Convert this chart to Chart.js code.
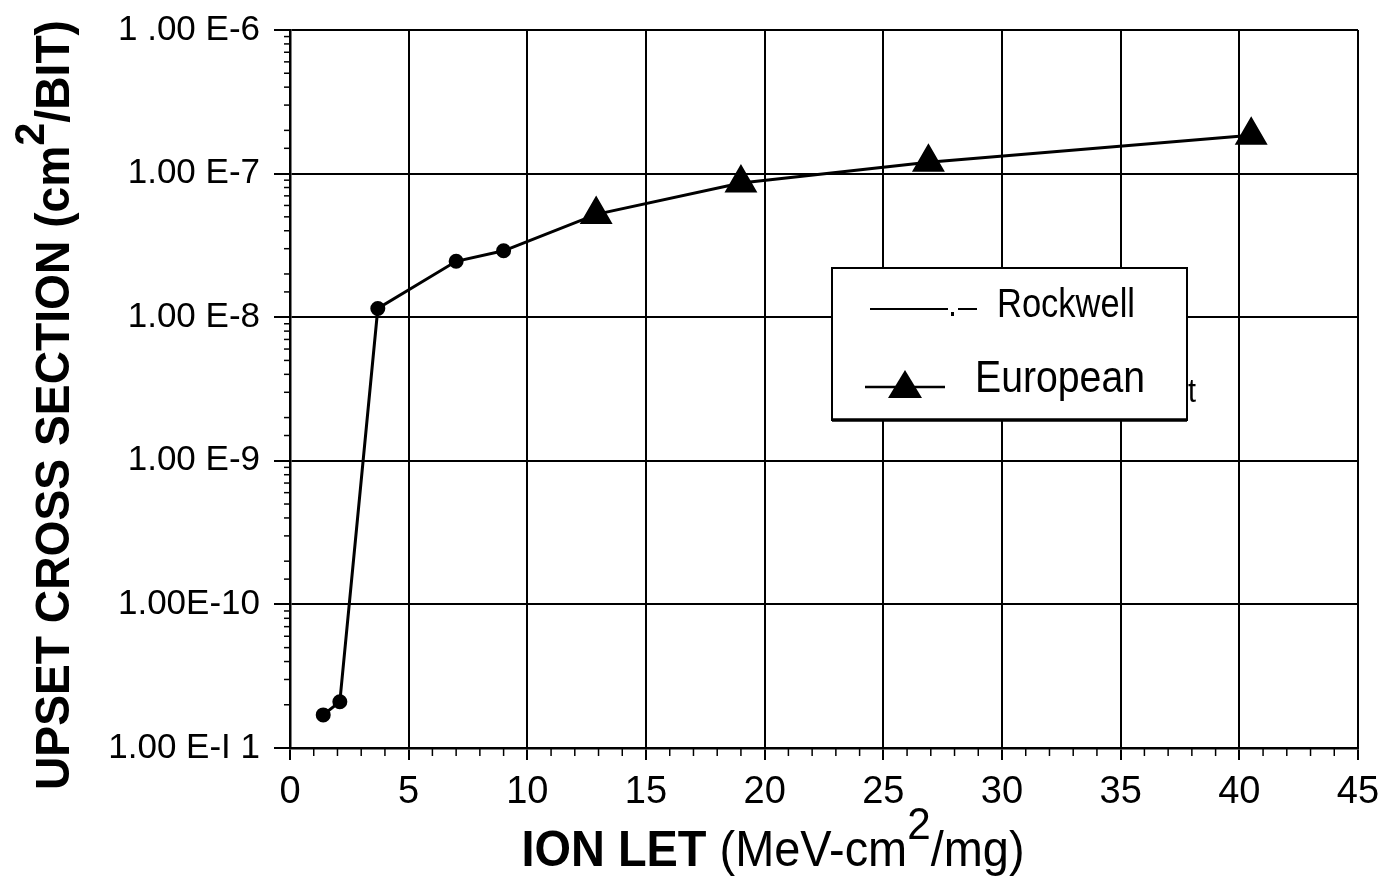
<!DOCTYPE html>
<html>
<head>
<meta charset="utf-8">
<script src="https://cdn.jsdelivr.net/npm/chart.js@4/dist/chart.umd.min.js"></script>
<style>
  html, body { margin: 0; padding: 0; background: #fff; }
  #wrap { width: 1385px; height: 888px; }
</style>
</head>
<body>
<div id="wrap"><canvas id="seu"></canvas></div>
<script>
// data
var rockwellLet = [1.4, 2.1, 3.7, 7.0, 9.0];
var rockwellSigma = [1.7e-11, 2.1e-11, 1.15e-8, 2.45e-8, 2.9e-8];
var europeanLet = [12.9, 19.0, 26.9, 40.5];
var europeanSigma = [5.2e-8, 8.6e-8, 1.2e-7, 1.85e-7];

var seriesNames = ["Rockwell", "European"];
// y tick labels as printed, from 1e-11 up to 1e-6
var yTickLabels = ["1.00 E-I 1", "1.00E-10", "1.00 E-9", "1.00 E-8", "1.00 E-7", "1 .00 E-6"];
// [text, bold, superscript]
var xTitle = [["ION LET ", true, false], ["(MeV-cm", false, false], ["2", false, true], ["/mg)", false, false]];
var yTitle = [["UPSET CROSS SECTION (cm", true, false], ["2", true, true], ["/BIT)", true, false]];

var narrow = '"Liberation Sans Narrow", "Liberation Sans", Arial, sans-serif';
var wide = '"Liberation Sans", Arial, sans-serif';

function decade(v) {
  var e = Math.log10(v);
  return Math.abs(e - Math.round(e)) < 1e-6 ? Math.round(e) : null;
}

// title with a raised "2", squeezed to the width seen in the scan
function richText(ctx, parts, size, target) {
  function font(p) {
    return (p[1] ? "bold " : "") + Math.round(p[2] ? size * 0.9 : size) + "px " + narrow;
  }
  var w = 0;
  parts.forEach(function (p) { ctx.font = font(p); w += ctx.measureText(p[0]).width; });
  ctx.scale(target / w, 1);
  var x = -w / 2;
  ctx.textBaseline = "middle";
  ctx.textAlign = "left";
  ctx.fillStyle = "#000";
  parts.forEach(function (p) {
    ctx.font = font(p);
    ctx.fillText(p[0], x, p[2] ? -size * 0.5 : 0);
    x += ctx.measureText(p[0]).width;
  });
}

var extras = {
  id: "extras",
  afterDraw: function (chart) {
    var ctx = chart.ctx, xs = chart.scales.x, ys = chart.scales.y, a = chart.chartArea;
    ctx.save();
    ctx.strokeStyle = "#000";
    ctx.lineWidth = 1.5;
    // minor ticks
    ys.ticks.forEach(function (t) {
      if (decade(t.value) !== null) return;
      var py = ys.getPixelForValue(t.value);
      ctx.beginPath(); ctx.moveTo(a.left - 6, py); ctx.lineTo(a.left, py); ctx.stroke();
    });
    for (var v = 0; v <= 45; v++) {
      if (v % 5 === 0) continue;
      var px = xs.getPixelForValue(v);
      ctx.beginPath(); ctx.moveTo(px, a.bottom); ctx.lineTo(px, a.bottom + 8); ctx.stroke();
    }
    ctx.restore();

    // axis titles
    ctx.save();
    ctx.translate(773, 852);
    richText(ctx, xTitle, 50, 503);
    ctx.restore();
    ctx.save();
    ctx.translate(56, 405);
    ctx.rotate(-Math.PI / 2);
    richText(ctx, yTitle, 48, 770);
    ctx.restore();

    // legend box
    var L = 832, T = 268, R = 1187, B = 420;
    ctx.save();
    ctx.fillStyle = "#fff";
    ctx.fillRect(L, T, R - L, B - T);
    ctx.strokeStyle = "#000";
    ctx.lineWidth = 2;
    ctx.strokeRect(L, T, R - L, B - T);
    ctx.lineWidth = 3.5;
    ctx.beginPath(); ctx.moveTo(L, B); ctx.lineTo(R, B); ctx.stroke();
    ctx.lineWidth = 2;
    // Rockwell sample: long dash, dot, short dash
    ctx.beginPath(); ctx.moveTo(870, 309); ctx.lineTo(948, 309); ctx.stroke();
    ctx.beginPath(); ctx.moveTo(958, 309); ctx.lineTo(977, 309); ctx.stroke();
    ctx.fillStyle = "#000";
    ctx.fillRect(951, 312, 3, 4);
    // European sample
    ctx.lineWidth = 2.5;
    ctx.beginPath(); ctx.moveTo(865, 387); ctx.lineTo(945, 387); ctx.stroke();
    ctx.beginPath(); ctx.moveTo(905, 370); ctx.lineTo(922, 398); ctx.lineTo(888, 398); ctx.closePath(); ctx.fill();
    ctx.textBaseline = "middle";
    ctx.textAlign = "left";
    ctx.font = "40px " + narrow;
    ctx.fillText(chart.data.datasets[0].label, 997, 306, 138);
    ctx.font = "44px " + narrow;
    ctx.fillText(chart.data.datasets[1].label, 975, 380, 170);
    ctx.font = "34px " + narrow;
    ctx.fillText("t", 1188, 393, 8);
    ctx.restore();
  }
};

var rockwellPts = rockwellLet.map(function (x, i) { return { x: x, y: rockwellSigma[i] }; });
var europeanPts = europeanLet.map(function (x, i) { return { x: x, y: europeanSigma[i] }; });
// the curve runs on from the last Rockwell point into the European points
var europeanLine = [rockwellPts[rockwellPts.length - 1]].concat(europeanPts);

new Chart(document.getElementById("seu"), {
  type: "line",
  data: {
    datasets: [
      {
        label: seriesNames[0],
        data: rockwellPts,
        borderColor: "#000",
        backgroundColor: "#000",
        borderWidth: 3,
        pointStyle: "circle",
        pointRadius: 6,
        tension: 0
      },
      {
        label: seriesNames[1],
        data: europeanLine,
        borderColor: "#000",
        backgroundColor: "#000",
        borderWidth: 3,
        pointStyle: "triangle",
        pointRadius: europeanLine.map(function (p, i) { return i === 0 ? 0 : 16; }),
        tension: 0
      }
    ]
  },
  options: {
    responsive: true,
    maintainAspectRatio: false,
    animation: false,
    layout: { padding: { top: 30, right: 27, left: 0, bottom: 0 } },
    plugins: { legend: { display: false }, tooltip: { enabled: false } },
    scales: {
      x: {
        type: "linear",
        min: 0,
        max: 45,
        afterFit: function (s) { s.height = 140; s.paddingLeft = 0; s.paddingRight = 0; },
        ticks: { stepSize: 5, color: "#000", font: { family: narrow, size: 38 }, padding: 10, maxRotation: 0 },
        grid: { color: "#000", lineWidth: 2, tickLength: 12, tickColor: "#000", tickWidth: 2 },
        border: { color: "#000", width: 2.5 }
      },
      y: {
        type: "logarithmic",
        min: 1e-11,
        max: 1e-6,
        afterFit: function (s) { s.width = 290; s.paddingTop = 0; s.paddingBottom = 0; },
        ticks: {
          autoSkip: false,
          color: "#000",
          font: { family: wide, size: 35 },
          padding: 14,
          callback: function (v) {
            var e = decade(v);
            return e === null ? "" : yTickLabels[e + 11];
          }
        },
        grid: {
          lineWidth: 2,
          tickLength: 16,
          color: function (c) { return decade(c.tick.value) !== null ? "#000" : "rgba(0,0,0,0)"; },
          tickColor: function (c) { return decade(c.tick.value) !== null ? "#000" : "rgba(0,0,0,0)"; }
        },
        border: { color: "#000", width: 2.5 }
      }
    }
  },
  plugins: [extras]
});
</script>
</body>
</html>
